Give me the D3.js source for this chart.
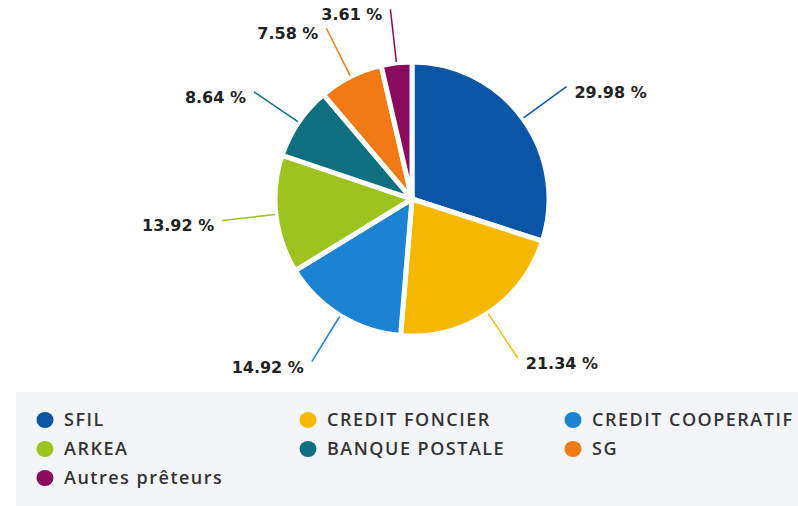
<!DOCTYPE html>
<html>
<head>
    <meta charset="utf-8">
    <style>
        body {
            margin: 0;
            background: #fff;
            font-family: "DejaVu Sans", sans-serif;
        }
        .slice {
            stroke: #fff;
            stroke-width: 5px;
        }
        .connector {
            fill: none;
            stroke-width: 1.5px;
        }
        .pct {
            font-size: 16px;
            font-weight: bold;
            fill: #222;
        }
        .legend text {
            font-family: "Open Sans", sans-serif;
            font-size: 18px;
            font-weight: 600;
            letter-spacing: 1.5px;
            fill: #333;
        }
    </style>
</head>
<body>
    <div id="chart"></div>
    <script src="https://d3js.org/d3.v7.min.js"></script>
    <script>
        var names = ["SFIL", "CREDIT FONCIER", "CREDIT COOPERATIF", "ARKEA", "BANQUE POSTALE", "SG", "Autres prêteurs"];
        var shares = [29.98, 21.34, 14.92, 13.92, 8.64, 7.58, 3.61];
        var colors = ["#0a55a5", "#f4b800", "#1c82d2", "#9cc31e", "#0e6f7f", "#f27a14", "#8a0a5c"];

        var width = 798, height = 506;
        var cx = 412, cy = 199, r = 137;

        var svg = d3.select("#chart").append("svg")
            .attr("width", width)
            .attr("height", height);

        var rows = names.map(function(n, i) {
            return {name: n, value: shares[i], color: colors[i]};
        });

        var pie = d3.pie()
            .sort(null)
            .value(function(d) { return d.value; });

        var arc = d3.arc().innerRadius(0).outerRadius(r);
        var lineStart = d3.arc().innerRadius(r + 1).outerRadius(r + 1);
        var lineEnd = d3.arc().innerRadius(191).outerRadius(191);

        var g = svg.append("g")
            .attr("transform", "translate(" + cx + "," + cy + ")");

        var arcs = pie(rows);

        g.selectAll("path.slice")
            .data(arcs)
            .enter().append("path")
            .attr("class", "slice")
            .attr("fill", function(d) { return d.data.color; })
            .attr("d", arc);

        g.selectAll("line.connector")
            .data(arcs)
            .enter().append("line")
            .attr("class", "connector")
            .attr("stroke", function(d) { return d.data.color; })
            .attr("x1", function(d) { return lineStart.centroid(d)[0]; })
            .attr("y1", function(d) { return lineStart.centroid(d)[1]; })
            .attr("x2", function(d) { return lineEnd.centroid(d)[0]; })
            .attr("y2", function(d) { return lineEnd.centroid(d)[1]; });

        g.selectAll("text.pct")
            .data(arcs)
            .enter().append("text")
            .attr("class", "pct")
            .attr("text-anchor", function(d) {
                return lineEnd.centroid(d)[0] > 0 ? "start" : "end";
            })
            .attr("x", function(d) {
                var p = lineEnd.centroid(d);
                return p[0] > 0 ? p[0] + 8 : p[0] - 8;
            })
            .attr("y", function(d) { return lineEnd.centroid(d)[1] + 11; })
            .text(function(d) { return d.data.value.toFixed(2) + " %"; });

        // legend box
        var legend = svg.append("g").attr("class", "legend");
        legend.append("rect")
            .attr("x", 16)
            .attr("y", 392)
            .attr("width", width - 16)
            .attr("height", height - 392)
            .attr("fill", "#f3f5f9");

        var colX = [45, 308, 573];
        var rowY = [420, 449, 478];

        var item = legend.selectAll("g.item")
            .data(rows)
            .enter().append("g")
            .attr("class", "item")
            .attr("transform", function(d, i) {
                return "translate(" + colX[i % 3] + "," + rowY[Math.floor(i / 3)] + ")";
            });

        item.append("ellipse")
            .attr("rx", 8.5)
            .attr("ry", 8)
            .attr("fill", function(d) { return d.color; });

        item.append("text")
            .attr("x", 19)
            .attr("y", 6)
            .text(function(d) { return d.name; });
    </script>
</body>
</html>
